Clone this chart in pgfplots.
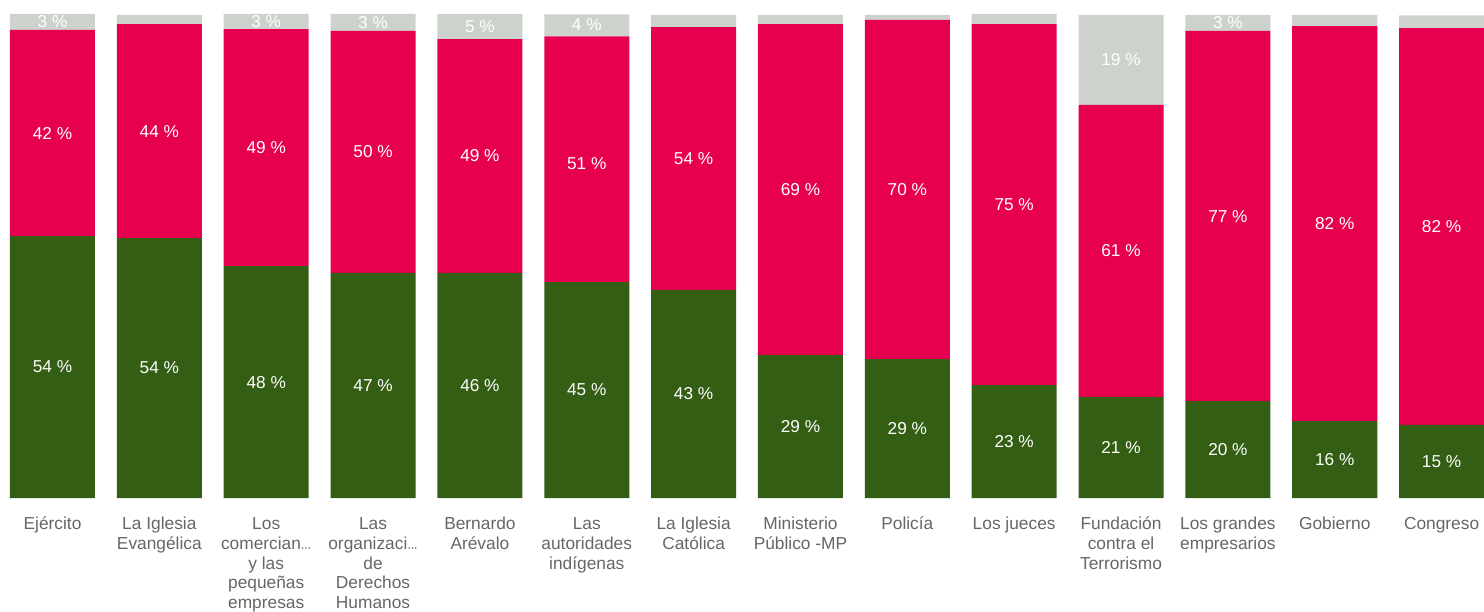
\documentclass[border=0pt]{standalone}
\usepackage{graphicx}
\usepackage{pgfplots}
\pgfplotsset{compat=1.18}
\usepackage{fontspec}
\setmainfont{Liberation Sans}

\definecolor{verde}{HTML}{335E14}
\definecolor{rojo}{HTML}{E80050}
\definecolor{gris}{HTML}{CED2CC}
\definecolor{etiq}{HTML}{666666}

\newcommand{\puntos}{\scalebox{0.6}[1]{…}}

% green = confía, red = no confía, gray = no sabe (percent)
\pgfplotstableread{
x  g     r     n
0  54.1  42.6  3.3
1  53.7  44.2  1.9
2  47.9  49.0  3.1
3  46.5  50.0  3.5
4  46.5  48.3  5.2
5  44.6  50.8  4.5
6  43.0  54.3  2.5
7  29.5  68.4  1.9
8  28.7  70.1  1.0
9  23.3  74.6  2.1
10 20.9  60.3  18.6
11 20.0  76.5  3.3
12 15.9  81.6  2.3
13 15.1  82.0  2.6
}\datos

\pgfplotsset{
  base/.style={
    x=106.85bp, y=4.84bp,
    xmin=-0.4913, xmax=13.397, ymin=0, ymax=102.893,
    enlargelimits=false,
    axis line style={draw=none},
    tick style={draw=none},
    ytick=\empty,
  },
}

\begin{document}
\begin{tikzpicture}
\begin{axis}[base, name=ax,
    ybar stacked, bar width=85bp,
    xtick={0,...,13},
    xticklabels={Ejército, {La Iglesia\\Evangélica}, {Los\\comercian\puntos\\y las\\pequeñas\\empresas},
      {Las\\organizaci\puntos\\de\\Derechos\\Humanos}, {Bernardo\\Arévalo}, {Las\\autoridades\\indígenas},
      {La Iglesia\\Católica}, {Ministerio\\Público -MP}, Policía, Los jueces,
      {Fundación\\contra el\\Terrorismo}, {Los grandes\\empresarios}, Gobierno, Congreso},
    typeset ticklabels with strut,
    xticklabel style={font=\fontsize{17.4}{20}\selectfont, text=etiq, align=center,
      anchor=north, inner sep=0pt, yshift=-17bp},
  ]
  \addplot[fill=verde, draw=none] table[x=x, y=g] {\datos};
  \addplot[fill=rojo, draw=none] table[x=x, y=r] {\datos};
  \addplot[fill=gris, draw=none] table[x=x, y=n] {\datos};
\end{axis}

\begin{axis}[base, hide axis]
  \addplot[draw=none, mark=none, point meta=explicit symbolic,
    nodes near coords={\pgfplotspointmeta\ \%},
    every node near coord/.append style={anchor=center, text=white,
      font=\fontsize{17.3}{20}\selectfont}]
    table[meta=lab] {
x  y      lab
0  27.05  54
0  75.40  42
0  98.35  3
1  26.85  54
1  75.80  44
2  23.95  48
2  72.40  49
2  98.45  3
3  23.25  47
3  71.50  50
3  98.25  3
4  23.25  46
4  70.65  49
4  97.40  5
5  22.30  45
5  69.00  51
5  97.75  4
6  21.50  43
6  70.15  54
7  14.75  29
7  63.70  69
8  14.35  29
8  63.75  70
9  11.65  23
9  60.60  75
10 10.45  21
10 51.05  61
10 90.50  19
11 10.00  20
11 58.25  77
11 98.15  3
12 7.95   16
12 56.70  82
13 7.55   15
13 56.10  82
};
\end{axis}

\pgfresetboundingbox
\path[use as bounding box] ([yshift=-113bp]ax.south west) rectangle (ax.north east);
\end{tikzpicture}
\end{document}
